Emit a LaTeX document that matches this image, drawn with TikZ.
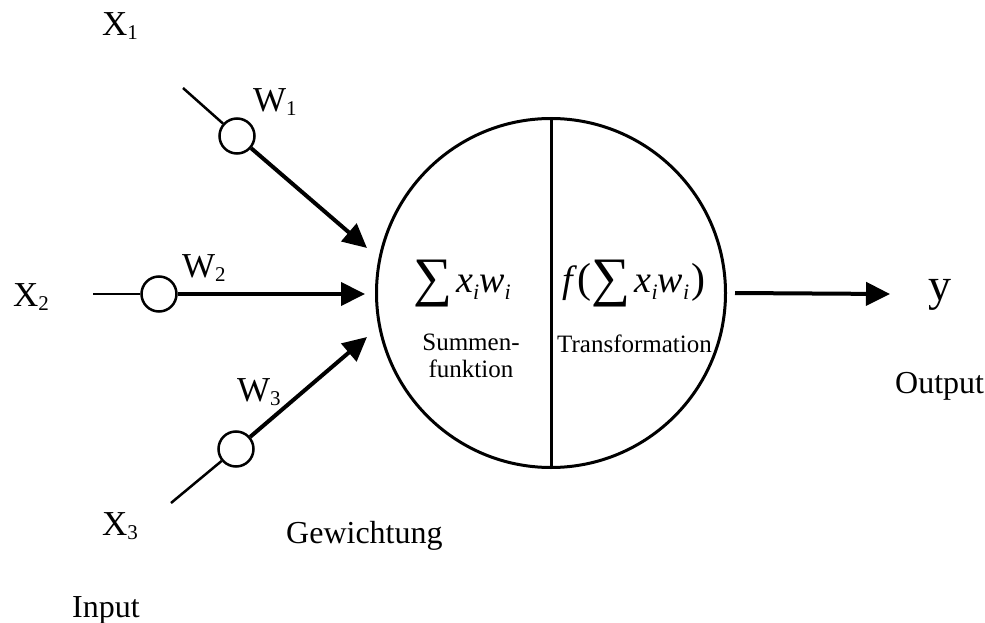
\documentclass[tikz,border=0pt]{standalone}
\usepackage{fontspec,graphicx}
\setmainfont{Liberation Serif}
\usetikzlibrary{arrows.meta}

\newcommand{\idx}[1]{\raisebox{-4pt}{\fontsize{21}{21}\selectfont #1}}
\newcommand{\midx}[1]{\raisebox{-7pt}{\fontsize{22}{22}\selectfont\itshape #1}}
\newcommand{\sumsign}{\raisebox{-15pt}{\resizebox*{39pt}{47pt}{\raisebox{\depth}{∑}}}}

\begin{document}
\begin{tikzpicture}[x=1pt, y=-1pt,
  lbl/.style={inner sep=0pt, anchor=base west, font=\fontsize{32}{38}\selectfont},
  var/.style={lbl, font=\fontsize{35}{40}\selectfont},
  small/.style={inner sep=0pt, font=\fontsize{25}{28}\selectfont},
  wt/.style={circle, draw, line width=2.5pt, minimum size=35pt, inner sep=0pt, fill=white},
  wire/.style={line width=2.5pt},
  arr/.style={-{Triangle[length=24pt,width=23pt]}, line width=4pt}]
\useasboundingbox (0,0) rectangle (985,623);
% neuron with its two halves
\node[circle, draw, line width=3pt, minimum size=349pt, inner sep=0pt] (neuron) at (551,293) {};
\draw[line width=3pt] (neuron.north) -- (neuron.south);
\node[inner sep=0pt, anchor=base west, font=\fontsize{38}{42}\selectfont] (sum) at (413,292)
  {\sumsign\hspace{4pt}{\itshape x}\midx{i}{\itshape w}\midx{i}};
\node[inner sep=0pt, anchor=base west, font=\fontsize{38}{42}\selectfont] (act) at (562,292)
  {{\itshape f}\hspace{5pt}{\fontsize{42}{42}\selectfont(}\sumsign\hspace{4pt}{\itshape x}\midx{i}{\itshape w}\midx{i}\hspace{2pt}{\fontsize{42}{42}\selectfont)}};
\node[small, align=center, anchor=north] (sumtxt) at (471,334) {Summen-\\[-1pt]funktion};
\node[small, anchor=base west] (acttxt) at (557,352) {Transformation};
% inputs and weights
\coordinate (in1) at (183,88);
\coordinate (in2) at (93,294);
\coordinate (in3) at (171,503);
\node[wt] (g1) at (237,136) {};
\node[wt] (g2) at (159,294) {};
\node[wt] (g3) at (236,449) {};
\coordinate (t1) at (367,248);
\coordinate (t2) at (365,294);
\coordinate (t3) at (367,337);
\draw[wire] (in1) -- (g1);
\draw[wire] (in2) -- (g2);
\draw[wire] (in3) -- (g3);
\draw[arr] (g1) -- (t1);
\draw[arr] (g2) -- (t2);
\draw[arr] (g3) -- (t3);
\node[var] (x1) at (102,36) {X\idx{1}};
\node[var] (x2) at (13,306) {X\idx{2}};
\node[var] (x3) at (102,535) {X\idx{3}};
\node[var] (w1) at (253,112) {W\idx{1}};
\node[var] (w2) at (182,277) {W\idx{2}};
\node[var] (w3) at (237,401) {W\idx{3}};
% output
\node[lbl, font=\fontsize{46}{50}\selectfont] (yout) at (928,300) {y};
\coordinate (outtip) at (890,294);
\draw[arr] ([xshift=8pt]neuron.east) -- (outtip);
\node[lbl] (gew) at (286,543) {Gewichtung};
\node[lbl] (inp) at (72,617) {Input};
\node[lbl] (outp) at (895,393) {Output};
\end{tikzpicture}
\end{document}
